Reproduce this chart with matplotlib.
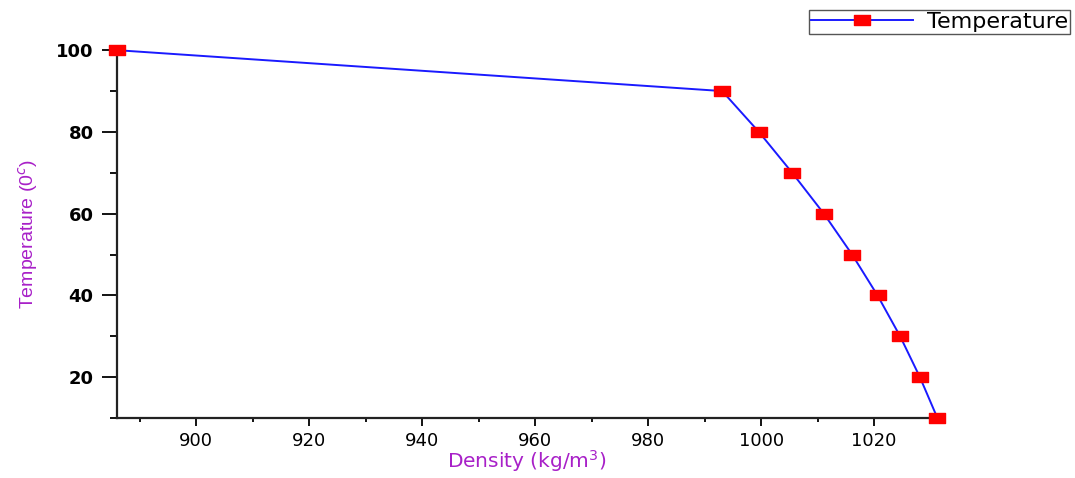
import matplotlib
matplotlib.use('Agg')
import matplotlib.pyplot as plt
from matplotlib.path import Path
from matplotlib.ticker import MultipleLocator

density = [886.0, 993.1, 999.6, 1005.5, 1011.1, 1016.1, 1020.6, 1024.6, 1028.1, 1031.2]
temperature = [100, 90, 80, 70, 60, 50, 40, 30, 20, 10]

plt.rcParams['font.family'] = ['DejaVu Sans']

# wide red rectangle marker (the source image is stretched horizontally)
rect = Path([(-1, -0.55), (1, -0.55), (1, 0.55), (-1, 0.55), (-1, -0.55)],
            [Path.MOVETO, Path.LINETO, Path.LINETO, Path.LINETO, Path.CLOSEPOLY])

fig = plt.figure(figsize=(10.75, 4.78), dpi=100)
ax = fig.add_axes([0.109, 0.1255, 0.763, 0.7695])

ax.plot(density, temperature, color='#1a1aff', lw=1.4, marker=rect,
        markersize=12, markerfacecolor='#ff0000', markeredgecolor='#ff0000',
        label='Temperature', clip_on=False, zorder=3)

ax.set_xlim(886, 1031.2)
ax.set_ylim(10, 100)
ax.xaxis.set_minor_locator(MultipleLocator(10))
ax.yaxis.set_minor_locator(MultipleLocator(10))
ax.set_xticks([900, 920, 940, 960, 980, 1000, 1020])
ax.set_yticks([20, 40, 60, 80, 100])

for s in ['top', 'right']:
    ax.spines[s].set_visible(False)
for s in ['left', 'bottom']:
    ax.spines[s].set_linewidth(1.6)
    ax.spines[s].set_color('#222222')

ax.tick_params(axis='y', which='major', direction='out', length=11, width=1.3,
               labelsize=13, pad=6)
ax.tick_params(axis='y', which='minor', direction='out', length=5, width=1.3)
ax.tick_params(axis='x', which='major', direction='out', length=6, width=1.3,
               labelsize=13, pad=4)
ax.tick_params(axis='x', which='minor', direction='out', length=3, width=1.3)
for lbl in ax.get_yticklabels():
    lbl.set_fontweight('bold')

ax.set_xlabel('Density (kg/m$^3$)', color='#a820c8', fontsize=14.5)
ax.xaxis.set_label_coords(0.499, -0.083)
ax.set_ylabel('Temperature (0$^c$)', color='#a820c8', fontsize=14,
              family=['Liberation Sans', 'DejaVu Sans'])
ax.yaxis.set_label_coords(-0.094, 0.5)

leg = ax.legend(loc='upper right', bbox_to_anchor=(0.9955, 0.98),
                bbox_transform=fig.transFigure, fontsize=16, fancybox=False,
                edgecolor='#555555', framealpha=1, borderpad=0.1,
                handlelength=4.6, handletextpad=0.6, borderaxespad=0)
leg.get_frame().set_linewidth(1.0)

fig.savefig('out.png', dpi=100)
